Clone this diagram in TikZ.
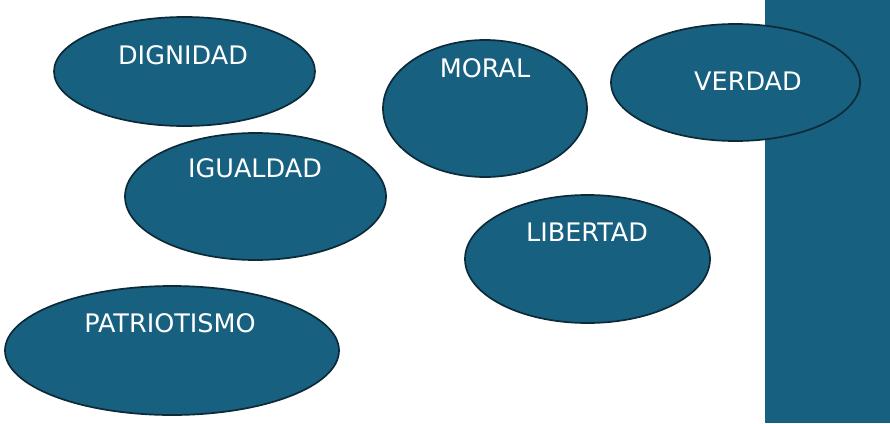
\documentclass[tikz,border=0pt]{standalone}
\usepackage{fontspec}
\setmainfont{DejaVu Sans}
\usepackage{xcolor}
\usetikzlibrary{shapes.geometric}

\definecolor{azul}{HTML}{17607F}
\definecolor{borde}{HTML}{0D2A38}

\begin{document}
\begin{tikzpicture}[
x=1pt, y=-1pt,
valor/.style={ellipse, draw=borde, line width=1.7pt, fill=azul, inner sep=0pt},
etiqueta/.style={text=white, font=\fontsize{25.5}{30}\selectfont, inner sep=0pt}
]
\useasboundingbox (0,0) rectangle (890,423);

\fill[azul] (765,0) rectangle (890,423);

\node[valor, minimum width=261pt, minimum height=109pt] (dignidad) at (184.5,71.5) {};
\node[valor, minimum width=204pt, minimum height=137pt] (moral) at (485,108.5) {};
\node[valor, minimum width=249pt, minimum height=117pt] (verdad) at (735.5,82.5) {};
\node[valor, minimum width=261pt, minimum height=127pt] (igualdad) at (255.5,196.5) {};
\node[valor, minimum width=245pt, minimum height=128pt] (libertad) at (587.5,259) {};
\node[valor, minimum width=334pt, minimum height=129pt] (patriotismo) at (172,350.5) {};

\node[etiqueta] (tdignidad) at (183,55) {DIGNIDAD};
\node[etiqueta] (tmoral) at (485,68) {MORAL};
\node[etiqueta] (tverdad) at (748,81) {VERDAD};
\node[etiqueta] (tigualdad) at (255,168) {IGUALDAD};
\node[etiqueta] (tlibertad) at (587,232) {LIBERTAD};
\node[etiqueta] (tpatriotismo) at (170,323) {PATRIOTISMO};

\end{tikzpicture}
\end{document}
